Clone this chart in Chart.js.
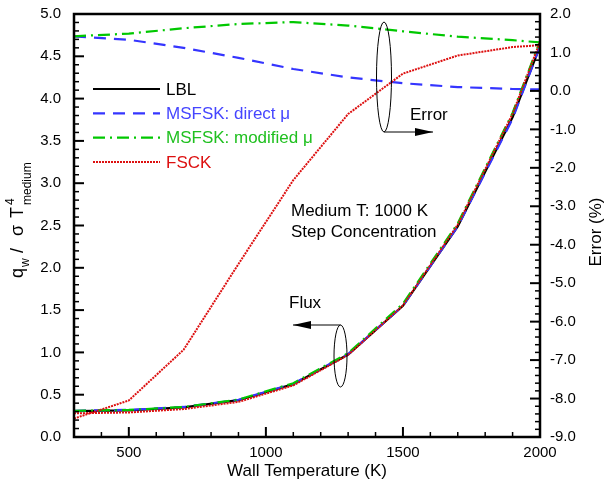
<!DOCTYPE html>
<html>
<head>
<meta charset="utf-8">
<script src="https://cdn.jsdelivr.net/npm/chart.js@4.4.0/dist/chart.umd.min.js"></script>
<style>
  html, body { margin: 0; padding: 0; background: #fff; }
</style>
</head>
<body>
<canvas id="myChart" width="607" height="493"></canvas>
<script>
  // wall temperature (K)
  const temps = [300, 500, 700, 900, 1100, 1300, 1500, 1700, 1900, 2000]

  // non-dimensional wall flux q_w / sigma T_medium^4
  const flux_lbl      = [0.305, 0.315, 0.350, 0.435, 0.625, 0.975, 1.550, 2.490, 3.780, 4.620]
  const flux_direct   = [0.310, 0.320, 0.355, 0.440, 0.630, 0.980, 1.550, 2.490, 3.760, 4.620]
  const flux_modified = [0.310, 0.320, 0.355, 0.443, 0.636, 0.990, 1.575, 2.525, 3.830, 4.680]
  const flux_fsck     = [0.280, 0.290, 0.330, 0.415, 0.610, 0.970, 1.555, 2.510, 3.820, 4.670]

  // relative error (%)
  const err_direct   = [1.42, 1.33, 1.12, 0.86, 0.57, 0.35, 0.20, 0.10, 0.05, 0.04]
  const err_modified = [1.42, 1.49, 1.63, 1.74, 1.79, 1.70, 1.55, 1.41, 1.32, 1.26]
  const err_fsck     = [-8.52, -8.05, -6.73, -4.50, -2.32, -0.60, 0.45, 0.92, 1.14, 1.19]

  const x_ticks  = [500, 1000, 1500, 2000]
  const names    = ['LBL', 'MSFSK: direct \u03bc', 'MSFSK: modified \u03bc', 'FSCK']

  const FONT = "'Liberation Sans', Arial, sans-serif"
  const styles = [
    { color: '#000000', text: '#000000', dash: [], width: 2.2, order: 4 },
    { color: '#3535ff', text: '#4545ff', dash: [12, 8], width: 2.2, order: 3 },
    { color: '#00c800', text: '#20c020', dash: [12, 5, 2, 5], width: 2.2, order: 2 },
    { color: '#dd1010', text: '#dd1010', dash: [2, 1], width: 2, order: 1 },
  ]

  function pts(vals) {
    return temps.map((t, i) => ({ x: t, y: vals[i] }))
  }

  function make_set(idx, vals, axis) {
    let s = styles[idx]
    return {
      label: names[idx] + (axis == 'y2' ? ' error' : ''),
      data: pts(vals),
      yAxisID: axis,
      borderColor: s.color,
      borderDash: s.dash,
      borderWidth: s.width,
      fill: false,
      tension: 0,
      pointRadius: 0,
      order: s.order,
    }
  }

  function draw_arrow(ctx, x0, y0, x1, y1) {
    ctx.beginPath()
    ctx.moveTo(x0, y0)
    ctx.lineTo(x1, y1)
    ctx.stroke()
    let dir = Math.sign(x1 - x0)
    ctx.beginPath()
    ctx.moveTo(x1, y1)
    ctx.lineTo(x1 - dir * 18, y1 - 4)
    ctx.lineTo(x1 - dir * 18, y1 + 4)
    ctx.closePath()
    ctx.fill()
  }

  const decor = {
    id: 'decor',
    afterDraw(chart) {
      const ctx = chart.ctx
      const a = chart.chartArea
      const sx = chart.scales.x, sy = chart.scales.y, sy2 = chart.scales.y2
      ctx.save()
      ctx.strokeStyle = '#000'
      ctx.fillStyle = '#000'

      // inward ticks
      ctx.lineCap = 'butt'
      for (let v = 300; v <= 2000; v += 100) {
        let p = sx.getPixelForValue(v)
        let len = (v % 500 == 0) ? 10 : 5
        ctx.lineWidth = (v % 500 == 0) ? 2 : 1.5
        ctx.beginPath(); ctx.moveTo(p, a.bottom); ctx.lineTo(p, a.bottom - len); ctx.stroke()
      }
      for (let i = 0; i <= 50; i++) {
        let p = sy.getPixelForValue(i / 10)
        let len = (i % 5 == 0) ? 10 : 5
        ctx.lineWidth = (i % 5 == 0) ? 2 : 1.5
        ctx.beginPath(); ctx.moveTo(a.left, p); ctx.lineTo(a.left + len, p); ctx.stroke()
      }
      for (let i = 0; i <= 55; i++) {
        let v = -9 + i * 0.2
        let p = sy2.getPixelForValue(v)
        let len = (i % 5 == 0) ? 10 : 5
        ctx.lineWidth = (i % 5 == 0) ? 2 : 1.5
        ctx.beginPath(); ctx.moveTo(a.right, p); ctx.lineTo(a.right - len, p); ctx.stroke()
      }

      // frame
      ctx.lineWidth = 2.5
      ctx.strokeRect(a.left, a.top, a.right - a.left, a.bottom - a.top)

      // legend
      ctx.font = '17px ' + FONT
      ctx.textBaseline = 'middle'
      ctx.textAlign = 'left'
      styles.forEach((s, i) => {
        let y = 89 + i * 24.3
        ctx.strokeStyle = s.color
        ctx.lineWidth = s.width
        ctx.setLineDash(s.dash)
        ctx.beginPath(); ctx.moveTo(93, y); ctx.lineTo(160, y); ctx.stroke()
        ctx.setLineDash([])
        ctx.fillStyle = s.text
        ctx.fillText(names[i], 166, y + 1)
      })

      // notes
      ctx.fillStyle = '#000'
      ctx.font = '17px ' + FONT
      ctx.fillText('Medium T: 1000 K', 291, 211)
      ctx.fillText('Step Concentration', 291, 232)
      ctx.fillText('Error', 410, 115)
      ctx.fillText('Flux', 289, 303)

      ctx.strokeStyle = '#000'
      ctx.lineWidth = 1
      ctx.beginPath(); ctx.ellipse(384, 77, 7.5, 55, 0, 0, Math.PI * 2); ctx.stroke()
      draw_arrow(ctx, 384, 132, 433, 132)
      ctx.beginPath(); ctx.ellipse(340.5, 356, 6.5, 31, 0, 0, Math.PI * 2); ctx.stroke()
      draw_arrow(ctx, 340.5, 325, 293, 325)

      // left axis title: q_w / sigma T^4_medium, placed glyph by glyph
      ctx.save()
      ctx.translate(23, 278)
      ctx.rotate(-Math.PI / 2)
      ctx.textBaseline = 'alphabetic'
      const big = '18px ' + FONT, small = '12px ' + FONT
      const parts = [
        { t: 'q', f: big, s: 0, dy: 0 },
        { t: 'w', f: small, s: 11, dy: 6 },
        { t: '/', f: big, s: 25, dy: 0 },
        { t: '\u03c3', f: big, s: 42, dy: 0 },
        { t: 'T', f: big, s: 60, dy: 0 },
        { t: '4', f: small, s: 73, dy: -9 },
        { t: 'medium', f: small, s: 73, dy: 8 },
      ]
      parts.forEach(p => { ctx.font = p.f; ctx.fillText(p.t, p.s, p.dy) })
      ctx.restore()

      // right axis title
      ctx.save()
      ctx.translate(596, 232)
      ctx.rotate(-Math.PI / 2)
      ctx.font = '17px ' + FONT
      ctx.textAlign = 'center'
      ctx.textBaseline = 'middle'
      ctx.fillText('Error (%)', 0, 0)
      ctx.restore()

      ctx.restore()
    }
  }

  const config = {
    type: 'line',
    data: {
      datasets: [
        make_set(0, flux_lbl, 'y'),
        make_set(1, flux_direct, 'y'),
        make_set(2, flux_modified, 'y'),
        make_set(3, flux_fsck, 'y'),
        make_set(1, err_direct, 'y2'),
        make_set(2, err_modified, 'y2'),
        make_set(3, err_fsck, 'y2'),
      ]
    },
    options: {
      responsive: false,
      animation: false,
      layout: { padding: { top: 11, left: 0, right: 0, bottom: 0 } },
      plugins: {
        legend: { display: false },
        tooltip: { enabled: false },
      },
      scales: {
        x: {
          type: 'linear',
          position: 'bottom',
          min: 300,
          max: 2000,
          grid: { display: false },
          border: { display: false },
          afterBuildTicks: scale => { scale.ticks = x_ticks.map(v => ({ value: v })) },
          afterFit: scale => { scale.height = 56 },
          ticks: { color: '#000', font: { size: 15, family: FONT }, padding: -1, maxRotation: 0, callback: v => String(v) },
          title: { display: true, text: 'Wall Temperature (K)', color: '#000', font: { size: 17, family: FONT }, padding: { top: 0, bottom: 11 } },
        },
        y: {
          position: 'left',
          min: 0,
          max: 5,
          grid: { display: false },
          border: { display: false },
          afterFit: scale => { scale.width = 74 },
          ticks: { stepSize: 0.5, color: '#000', font: { size: 15, family: FONT }, padding: 5, callback: v => v.toFixed(1) },
        },
        y2: {
          position: 'right',
          min: -9,
          max: 2,
          grid: { display: false },
          border: { display: false },
          afterFit: scale => { scale.width = 67 },
          ticks: { stepSize: 1, color: '#000', font: { size: 15, family: FONT }, padding: 2, callback: v => v.toFixed(1) },
        },
      }
    },
    plugins: [decor]
  }

  const myChart = new Chart(document.getElementById('myChart'), config)
</script>
</body>
</html>
